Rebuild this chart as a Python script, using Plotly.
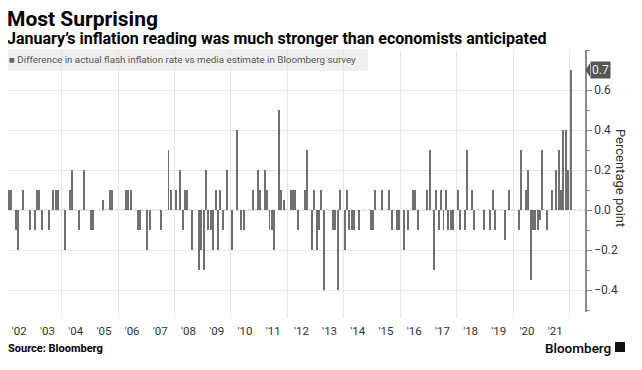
import plotly.graph_objects as go
import pandas as pd

# Monthly surprise (actual flash HICP minus Bloomberg median), Jan..Dec per year
v2002 = [0, 0.1, 0.1, 0, -0.1, -0.2, 0, 0.1, 0, 0, -0.1, 0]
v2003 = [-0.1, 0.1, 0.1, -0.1, 0, 0, -0.1, 0, 0.1, 0.1, 0.1, 0]
v2004 = [0, -0.2, 0, 0.1, 0.2, 0, 0, -0.1, 0, 0.2, 0, 0]
v2005 = [-0.1, -0.1, 0, 0, 0, 0.05, 0, 0, 0.1, 0.1, 0, 0]
v2006 = [0, 0, 0, 0.1, 0.1, 0.1, 0, 0, -0.1, -0.1, 0, 0]
v2007 = [-0.2, -0.1, 0, 0, 0, 0, -0.1, 0, 0, 0.3, 0.1, 0]
v2008 = [0.1, 0, 0.2, -0.1, 0.1, 0.1, 0, -0.2, 0, 0, -0.3, -0.2]
v2009 = [-0.3, 0.2, -0.1, -0.1, -0.2, 0.1, -0.2, 0.1, -0.1, 0, 0.2, 0]
v2010 = [-0.2, 0, 0.4, 0, -0.1, -0.1, 0, 0, 0, 0.1, 0, 0.2]
v2011 = [0.1, 0, 0.2, 0.1, -0.1, -0.1, -0.2, 0, 0.5, 0.1, 0.05, 0]
v2012 = [0, 0.1, 0.1, 0.1, -0.1, 0, 0, 0.1, 0.3, 0, -0.2, 0.1]
v2013 = [-0.2, -0.1, 0.1, -0.4, 0, 0, 0, -0.1, -0.1, -0.4, 0.1, 0]
v2014 = [-0.2, 0.1, -0.1, -0.1, -0.1, 0, -0.1, 0, 0, 0, 0, -0.1]
v2015 = [-0.1, 0.1, 0, 0, 0.1, 0, 0, 0.1, -0.1, 0, -0.1, -0.1]
v2016 = [0, -0.2, 0, -0.1, 0, 0.1, 0.1, -0.1, 0, 0, 0, 0.1]
v2017 = [0.3, 0, -0.3, 0.1, -0.1, 0.1, -0.1, 0.1, -0.1, -0.1, -0.1, 0]
v2018 = [0.1, -0.1, 0, -0.1, 0.3, 0, 0.1, -0.1, 0, 0, 0, -0.1]
v2019 = [0, 0, -0.1, 0.1, -0.1, 0, 0, 0, -0.15, 0, 0.1, 0]
v2020 = [0, 0, -0.1, 0.3, 0, 0.1, 0.2, -0.35, -0.1, -0.1, -0.1, -0.05]
v2021 = [0.3, 0, -0.1, 0, 0.1, 0, 0.2, 0.3, 0.1, 0.4, 0.4, 0.2]
v2022 = [0.7]

year_labels = ["'02", "'03", "'04", "'05", "'06", "'07", "'08", "'09", "'10", "'11",
               "'12", "'13", "'14", "'15", "'16", "'17", "'18", "'19", "'20", "'21"]
y_ticks = [-0.4, -0.2, 0.0, 0.2, 0.4, 0.6]

series_name = "Difference in actual flash inflation rate vs media estimate in Bloomberg survey"
title = "Most Surprising"
subtitle = "January\u2019s inflation reading was much stronger than economists anticipated"

values = (v2002 + v2003 + v2004 + v2005 + v2006 + v2007 + v2008 + v2009 + v2010 + v2011 +
          v2012 + v2013 + v2014 + v2015 + v2016 + v2017 + v2018 + v2019 + v2020 + v2021 + v2022)
dates = pd.date_range("2002-01-01", periods=len(values), freq="MS") + pd.Timedelta(days=14)

label_pos = [f"{2002 + i}-07-01" for i in range(len(year_labels))]
grid_pos = [f"{y}-01-01" for y in range(2004, 2023, 2)]

# The page body adds an 8px offset; lay out in figure pixels = target pixels - OFF
OFF = 8
W, H = 642, 370
L, R, T, B = 8 - OFF, 585 - OFF, 50 - OFF, 312 - OFF


def px_x(x):
    return (x - OFF - L) / (R - L)


def px_y(y):
    return (B - (y - OFF)) / (B - T)


FONT = "Roboto"
fig = go.Figure()
fig.add_trace(go.Bar(x=dates, y=values, width=1.1e9,
                     marker=dict(color="#707070", line=dict(width=0)),
                     name=series_name, showlegend=False))

fig.update_layout(
    width=W, height=H, autosize=False,
    margin=dict(l=L, r=W - R, t=T, b=H - B, autoexpand=False),
    paper_bgcolor="white", plot_bgcolor="white",
    font=dict(family=FONT, color="#333"),
    xaxis=dict(
        type="date", range=["2002-02-05", "2022-07-21"], automargin=False,
        tickmode="array", tickvals=label_pos, ticktext=year_labels,
        showgrid=False, ticks="", showline=False, zeroline=False,
        tickfont=dict(size=11.5, color="#333"), ticklabelstandoff=10,
        minor=dict(tickmode="array", tickvals=grid_pos, showgrid=True,
                   gridcolor="#e6e6e6", gridwidth=1, ticks="outside",
                   ticklen=4, tickcolor="#e6e6e6"),
    ),
    yaxis=dict(
        side="right", range=[-0.51, 0.8], automargin=False,
        tickmode="array", tickvals=y_ticks, tickformat=".1f",
        showgrid=True, gridcolor="#e6e6e6", zeroline=False,
        showline=True, linecolor="#888", linewidth=1.5,
        ticks="outside", ticklen=5, tickcolor="#888", tickwidth=1,
        tickfont=dict(size=12, color="#333"),
        minor=dict(tickmode="linear", tick0=0, dtick=0.1, ticks="outside",
                   ticklen=3, tickcolor="#888", showgrid=False),
    ),
)

# dotted zero line
fig.add_shape(type="line", xref="paper", x0=0, x1=1, yref="y", y0=0, y1=0,
              line=dict(color="#bdbdbd", width=1, dash="dot"), layer="below")

# 0.7 tag pointer
fig.add_shape(type="path", xref="paper", yref="y",
              path=f"M {px_x(585.5)},{0.7} L {px_x(590)},{0.734} L {px_x(590)},{0.666} Z",
              fillcolor="#555", line=dict(width=0))
fig.add_annotation(xref="paper", yref="y", x=px_x(589.5), y=0.7, xanchor="left", yanchor="middle",
                   text="0.7", showarrow=False, bgcolor="#555", borderpad=1,
                   font=dict(size=12, color="#eee", family=FONT))

# Title + subtitle in one block
fig.add_annotation(xref="paper", yref="paper", x=px_x(6), y=px_y(6), xanchor="left", yanchor="top",
                   align="left", showarrow=False, borderpad=0,
                   text=(f"<b><span style='font-size:21px'>{title}</span><br>"
                         f"<span style='font-size:16px'>{subtitle}</span></b>"),
                   font=dict(size=14, color="#000", family=FONT))

# Legend box
fig.add_shape(type="rect", xref="paper", yref="paper", x0=px_x(8), x1=px_x(368), y0=px_y(71), y1=px_y(49),
              fillcolor="#f0f0f0", line=dict(width=0), layer="below")
fig.add_annotation(xref="paper", yref="paper", x=px_x(7), y=px_y(60), xanchor="left", yanchor="middle",
                   text="<span style='color:#666'>\u25A0</span> " + series_name, showarrow=False,
                   font=dict(size=9.8, color="#555", family=FONT))

# Axis title
fig.add_annotation(xref="paper", yref="paper", x=px_x(621), y=px_y(178), xanchor="center", yanchor="middle",
                   text="Percentage point", textangle=90, showarrow=False,
                   font=dict(size=13, color="#333", family=FONT))

# Source and brand
fig.add_annotation(xref="paper", yref="paper", x=px_x(6), y=px_y(348), xanchor="left", yanchor="middle",
                   text="<b>Source: Bloomberg</b>", showarrow=False,
                   font=dict(size=11, color="#000", family=FONT))
fig.add_annotation(xref="paper", yref="paper", x=px_x(612), y=px_y(347.5), xanchor="right", yanchor="middle",
                   text="Bloomberg", showarrow=False, borderpad=0,
                   font=dict(size=13.5, color="#000", family=FONT, weight=500))
fig.add_shape(type="rect", xref="paper", yref="paper", x0=px_x(615), x1=px_x(625), y0=px_y(352), y1=px_y(342),
              fillcolor="#111", line=dict(width=0))

fig.write_html("out.html")
